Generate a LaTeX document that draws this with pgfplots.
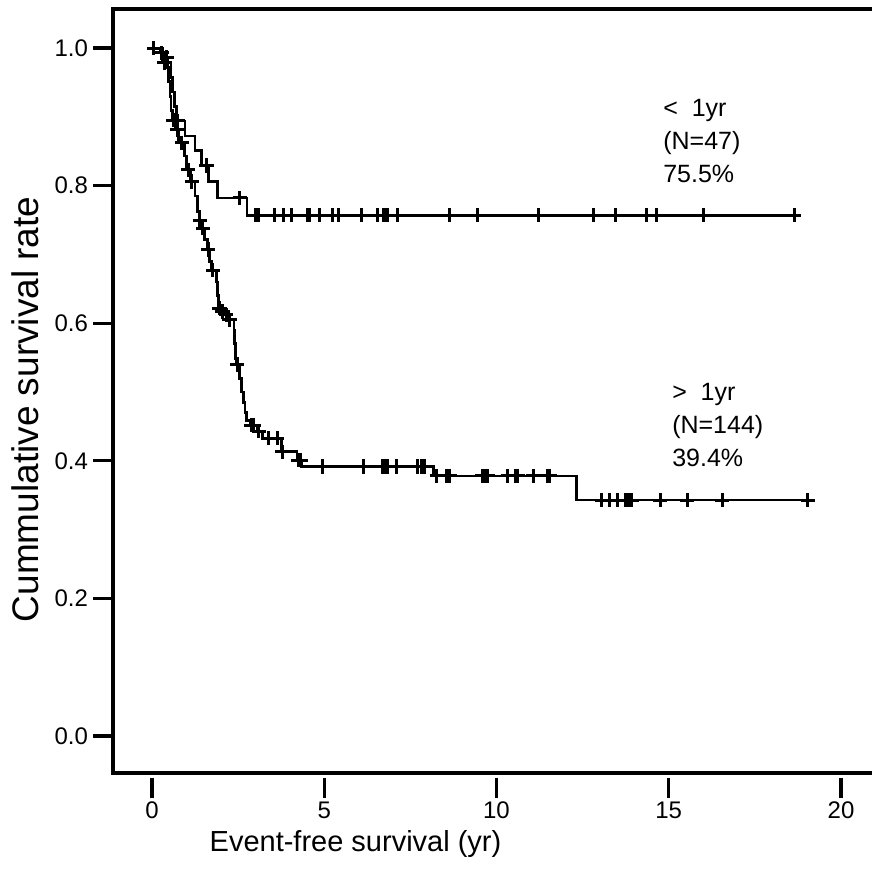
\documentclass[border=0pt]{standalone}
\usepackage{pgfplots}
\pgfplotsset{compat=1.18}
\usepackage{fontspec}
\setmainfont{Liberation Sans}
\begin{document}
\begin{tikzpicture}
\begin{axis}[
  at={(56.5pt,48pt)}, anchor=south west,
  scale only axis, width=379.5pt, height=382pt,
  xmin=-1.132, xmax=20.90, ymin=-0.0538, ymax=1.0567,
  clip=false,
  axis line style={draw=none},
  tick pos=left, tick align=outside,
  major tick length=10pt,
  tick style={line width=1.6pt, black},
  xtick={0,5,10,15,20}, ytick={0,0.2,0.4,0.6,0.8,1.0},
  xtick style={yshift=-2.5pt},
  yticklabel style={xshift=1pt},
  /pgf/number format/fixed, /pgf/number format/precision=1,
  /pgf/number format/assume math mode=true,
  ticklabel style={font=\fontsize{12}{14}\selectfont},
  yticklabel={\pgfmathprintnumber[fixed,fixed zerofill,precision=1]{\tick}},
  xticklabel style={yshift=-1pt},
  xlabel={Event-free survival (yr)},
  ylabel={Cummulative survival rate},
  xlabel style={at={(axis description cs:0.3195,0)}, anchor=base, yshift=-39pt, font=\fontsize{14.5}{17}\selectfont},
  ylabel style={at={(axis description cs:-0.0975,0.476)}, anchor=base, font=\fontsize{18.5}{22}\selectfont},
]
\draw[line width=2pt, line join=miter] (rel axis cs:1,1) -- (rel axis cs:0,1) -- (rel axis cs:0,0) -- (rel axis cs:1,0);

% < 1yr group
\addplot[black, line width=1.4pt, const plot, mark=none] coordinates {
(0,1.000) (0.30,0.979) (0.55,0.957) (0.60,0.936) (0.65,0.915) (0.70,0.894)
(0.96,0.872) (1.25,0.851) (1.44,0.829) (1.63,0.806) (1.89,0.782) (2.76,0.757) (18.81,0.757)};
\addplot[black, line width=1.5pt, only marks, mark=+, mark size=3.6pt] coordinates {
(0.05,1.000) (0.35,0.979) (0.75,0.894) (1.58,0.829) (2.55,0.782)
(2.99,0.757) (3.08,0.757) (3.57,0.757) (3.83,0.757) (4.06,0.757) (4.50,0.757) (4.56,0.757)
(4.85,0.757) (5.25,0.757) (5.40,0.757) (6.07,0.757) (6.56,0.757) (6.73,0.757) (6.79,0.757)
(6.85,0.757) (7.14,0.757) (8.65,0.757) (9.46,0.757) (11.23,0.757) (12.83,0.757) (13.44,0.757)
(14.34,0.757) (14.63,0.757) (16.02,0.757) (18.64,0.757)};

% > 1yr group
\addplot[black, line width=1.4pt, const plot, mark=none] coordinates {
(0,1.000) (0.25,0.993) (0.40,0.986) (0.46,0.972) (0.49,0.951) (0.52,0.930) (0.55,0.909)
(0.60,0.895) (0.68,0.881) (0.78,0.862) (0.94,0.843) (1.01,0.823) (1.12,0.806) (1.25,0.785)
(1.33,0.762) (1.37,0.750) (1.42,0.738) (1.52,0.722) (1.60,0.707) (1.68,0.690) (1.72,0.677)
(1.88,0.660) (1.91,0.640) (1.94,0.622) (2.04,0.617) (2.14,0.612) (2.23,0.605) (2.38,0.590)
(2.40,0.570) (2.42,0.548) (2.45,0.540) (2.55,0.520) (2.60,0.500) (2.65,0.485) (2.70,0.470)
(2.75,0.458) (2.85,0.452) (3.05,0.443) (3.20,0.433) (3.77,0.413) (4.21,0.401) (4.35,0.392)
(8.16,0.378) (12.33,0.343) (19.25,0.343)};
\addplot[black, line width=1.5pt, only marks, mark=+, mark size=3.6pt] coordinates {
(0.28,0.993) (0.43,0.986) (0.61,0.895) (0.73,0.881) (0.87,0.862) (1.05,0.823) (1.16,0.806)
(1.39,0.750) (1.48,0.738) (1.63,0.707) (1.77,0.677) (1.96,0.622) (2.05,0.617) (2.15,0.612)
(2.25,0.605) (2.47,0.540) (2.88,0.452) (2.95,0.452) (3.10,0.443) (3.37,0.433) (3.63,0.433)
(3.79,0.413) (4.25,0.401) (4.32,0.401)
(4.96,0.392) (6.15,0.392) (6.68,0.392) (6.76,0.392) (6.85,0.392) (7.11,0.392) (7.72,0.392)
(7.81,0.392) (7.92,0.392)
(8.27,0.378) (8.56,0.378) (8.65,0.378) (9.58,0.378) (9.67,0.378) (9.75,0.378) (10.33,0.378)
(10.54,0.378) (10.62,0.378) (11.06,0.378) (11.47,0.378) (11.55,0.378)
(13.06,0.343) (13.29,0.343) (13.50,0.343) (13.73,0.343) (13.79,0.343) (13.87,0.343)
(13.93,0.343) (14.75,0.343) (15.53,0.343) (16.55,0.343) (19.04,0.343)};

\node[anchor=base west, font=\fontsize{12.5}{15}\selectfont, inner sep=0pt] at (axis cs:14.83,0.901) {<\ \ 1yr};
\node[anchor=base west, font=\fontsize{12.5}{15}\selectfont, inner sep=0pt] at (axis cs:14.83,0.853) {(N=47)};
\node[anchor=base west, font=\fontsize{12.5}{15}\selectfont, inner sep=0pt] at (axis cs:14.83,0.805) {75.5\%};
\node[anchor=base west, font=\fontsize{12.5}{15}\selectfont, inner sep=0pt] at (axis cs:15.09,0.488) {>\ \ 1yr};
\node[anchor=base west, font=\fontsize{12.5}{15}\selectfont, inner sep=0pt] at (axis cs:15.09,0.440) {(N=144)};
\node[anchor=base west, font=\fontsize{12.5}{15}\selectfont, inner sep=0pt] at (axis cs:15.09,0.392) {39.4\%};
\end{axis}
\pgfresetboundingbox
\path (0,0) rectangle (436pt,434.5pt);
\end{tikzpicture}
\end{document}
